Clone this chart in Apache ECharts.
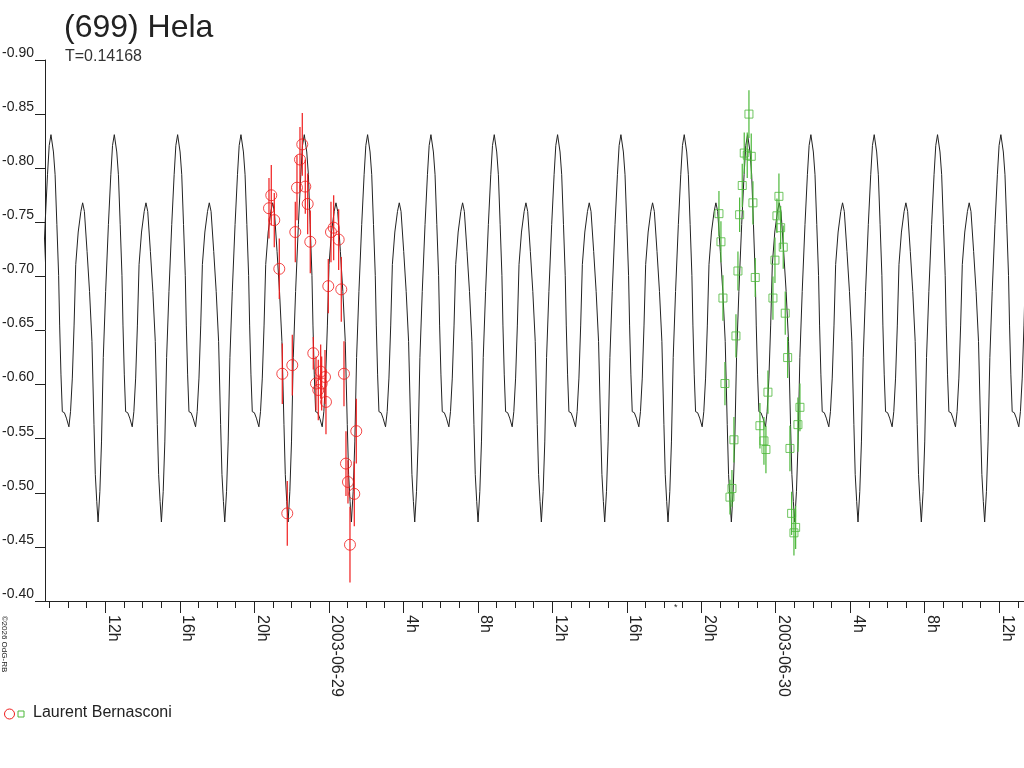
<!DOCTYPE html>
<html>
<head>
<meta charset="utf-8">
<title>(699) Hela</title>
<script src="https://cdn.jsdelivr.net/npm/echarts@6/dist/echarts.min.js"></script>
<style>
  html, body { margin: 0; padding: 0; background: #fff; }
  #main { width: 1024px; height: 768px; }
</style>
</head>
<body>
<div id="main"></div>
<script>
// time axis: hours since 2003-06-28 00:00 UT
const xMin = 8.762;
const xMax = 61.33;

// model lightcurve: one period, repeated with the period T
const periodDays = 0.14168;
const epoch = 9.083; // a main maximum
const profilePhase = [0, 0.039, 0.065, 0.093, 0.121, 0.137, 0.158, 0.179, 0.212, 0.244, 0.283, 0.309,
  0.337, 0.365, 0.391, 0.430, 0.472, 0.500, 0.528, 0.570, 0.609, 0.647, 0.679, 0.700, 0.723, 0.744,
  0.772, 0.798, 0.826, 0.863, 0.907, 0.945, 0.972];
const profileMag = [-0.831, -0.815, -0.794, -0.748, -0.701, -0.655, -0.609, -0.575, -0.574, -0.569, -0.561, -0.575,
  -0.606, -0.655, -0.711, -0.741, -0.760, -0.768, -0.760, -0.723, -0.686, -0.640, -0.563, -0.517, -0.492, -0.473,
  -0.501, -0.547, -0.625, -0.686, -0.748, -0.794, -0.821];

// Laurent Bernasconi, first night (circles)
const redTime = [20.789, 20.912, 21.073, 21.342, 21.503, 21.771, 22.040, 22.201, 22.292, 22.453, 22.577,
  22.738, 22.867, 23.006, 23.167, 23.312, 23.436, 23.565, 23.618, 23.796, 23.849, 23.973, 24.118, 24.263,
  24.531, 24.671, 24.816, 24.923, 25.030, 25.138, 25.369, 25.476];
const redMag = [-0.763, -0.775, -0.752, -0.707, -0.610, -0.481, -0.618, -0.741, -0.782, -0.808, -0.822,
  -0.783, -0.767, -0.732, -0.629, -0.601, -0.595, -0.612, -0.601, -0.607, -0.584, -0.691, -0.741, -0.745,
  -0.734, -0.688, -0.610, -0.527, -0.510, -0.452, -0.499, -0.557];
const redErr = [0.028, 0.028, 0.025, 0.028, 0.028, 0.030, 0.028, 0.028, 0.030, 0.030, 0.029,
  0.025, 0.028, 0.029, 0.015, 0.025, 0.028, 0.025, 0.025, 0.025, 0.030, 0.025, 0.028, 0.030,
  0.028, 0.030, 0.030, 0.030, 0.020, 0.035, 0.030, 0.030];

// Laurent Bernasconi, second night (squares)
const greenTime = [44.950, 45.057, 45.165, 45.272, 45.541, 45.648, 45.755, 45.863, 45.970, 46.061, 46.201,
  46.308, 46.469, 46.561, 46.684, 46.775, 46.899, 47.151, 47.366, 47.473, 47.581, 47.849, 47.957, 48.064,
  48.171, 48.263, 48.402, 48.510, 48.639, 48.762, 48.853, 48.977, 49.068, 49.191, 49.299];
const greenMag = [-0.758, -0.732, -0.680, -0.601, -0.496, -0.504, -0.549, -0.645, -0.705, -0.757, -0.784,
  -0.814, -0.812, -0.850, -0.811, -0.768, -0.699, -0.562, -0.548, -0.540, -0.593, -0.680, -0.715, -0.756,
  -0.774, -0.745, -0.727, -0.666, -0.625, -0.541, -0.481, -0.463, -0.468, -0.563, -0.579];
const greenErr = [0.021, 0.019, 0.021, 0.020, 0.016, 0.017, 0.021, 0.020, 0.018, 0.016, 0.020,
  0.019, 0.021, 0.022, 0.021, 0.020, 0.018, 0.021, 0.022, 0.022, 0.020, 0.020, 0.021, 0.016,
  0.021, 0.020, 0.020, 0.020, 0.019, 0.021, 0.020, 0.021, 0.020, 0.025, 0.022];

// x labels
const tickHours = [12, 16, 20, 24, 28, 32, 36, 40, 44, 48, 52, 56, 60];
const tickLabels = ['12h', '16h', '20h', '2003-06-29', '4h', '8h', '12h', '16h', '20h', '2003-06-30', '4h', '8h', '12h'];

const font = 'Liberation Sans, Arial, sans-serif';
const ink = '#222';
const red = '#f01c1c';
const green = '#4cb83a';

// build the model curve
const periodH = periodDays * 24;
const model = [];
for (let n = -1; n <= 16; n++) {
  for (let i = 0; i < profilePhase.length; i++) {
    const t = epoch + (n + profilePhase[i]) * periodH;
    if (t > xMin - 1 && t < xMax + 1) model.push([t, profileMag[i]]);
  }
}

const hourTicks = [];
for (let h = Math.ceil(xMin); h <= xMax; h++) hourTicks.push(h);

function errorBars(times, mags, errs, color) {
  return {
    type: 'custom',
    silent: true,
    z: 3,
    data: times.map((t, i) => [t, mags[i], errs[i]]),
    encode: { x: 0, y: 1 },
    renderItem: (params, api) => {
      const a = api.coord([api.value(0), api.value(1) - api.value(2)]);
      const b = api.coord([api.value(0), api.value(1) + api.value(2)]);
      return {
        type: 'line',
        shape: { x1: a[0], y1: a[1], x2: b[0], y2: b[1] },
        style: { stroke: color, lineWidth: 1.2 }
      };
    }
  };
}

const myChart = echarts.init(document.getElementById('main'));

const option = {
  backgroundColor: '#fff',
  animation: false,
  textStyle: { fontFamily: font },
  grid: { left: 45, right: 0, top: 60, bottom: 167, containLabel: false, outerBoundsMode: 'none' },
  xAxis: [{
    type: 'value',
    min: xMin,
    max: xMax,
    axisLine: { show: true, lineStyle: { color: ink, width: 1 } },
    axisTick: { show: true, customValues: tickHours, length: 12, lineStyle: { color: ink } },
    splitLine: { show: false },
    axisLabel: {
      customValues: tickHours,
      rotate: -90,
      margin: 14,
      verticalAlign: 'bottom',
      fontSize: 16,
      color: ink,
      fontFamily: font,
      formatter: (v) => tickLabels[tickHours.indexOf(Math.round(v))] || ''
    }
  }, {
    type: 'value',
    position: 'bottom',
    min: xMin,
    max: xMax,
    axisLine: { show: false },
    axisTick: { show: true, customValues: hourTicks, length: 7, lineStyle: { color: ink } },
    axisLabel: { show: false },
    splitLine: { show: false }
  }],
  yAxis: {
    type: 'value',
    inverse: true,
    min: -0.9,
    max: -0.4,
    interval: 0.05,
    axisLine: { show: true, lineStyle: { color: ink, width: 1 } },
    axisTick: { show: true, length: 10, lineStyle: { color: ink } },
    splitLine: { show: false },
    axisLabel: {
      margin: 11,
      verticalAlign: 'bottom',
      fontSize: 14,
      color: ink,
      fontFamily: font,
      formatter: (v) => v.toFixed(2)
    }
  },
  series: [{
    type: 'line',
    data: model,
    showSymbol: false,
    symbol: 'none',
    clip: true,
    lineStyle: { color: ink, width: 1 },
    z: 2
  },
  errorBars(redTime, redMag, redErr, red),
  errorBars(greenTime, greenMag, greenErr, green),
  {
    type: 'scatter',
    data: redTime.map((t, i) => [t, redMag[i]]),
    symbol: 'circle',
    symbolSize: 11,
    itemStyle: { color: 'rgba(0,0,0,0)', borderColor: red, borderWidth: 1 },
    z: 4
  }, {
    type: 'scatter',
    data: greenTime.map((t, i) => [t, greenMag[i]]),
    symbol: 'rect',
    symbolSize: 8,
    itemStyle: { color: 'rgba(0,0,0,0)', borderColor: green, borderWidth: 1 },
    z: 4
  }],
  graphic: [
    { type: 'text', left: 64, top: 12,
      style: { text: '(699) Hela', font: '32px ' + font, fill: ink } },
    { type: 'text', left: 65, top: 49,
      style: { text: 'T=0.14168', font: '16px ' + font, fill: '#333' } },
    { type: 'text', left: 674, top: 603,
      style: { text: '*', font: '9px ' + font, fill: ink } },
    { type: 'text', x: 4, y: 644, rotation: -Math.PI / 2,
      style: { text: '©2026 OdG-RB', font: '8px ' + font, fill: ink,
        align: 'center', verticalAlign: 'middle', textAlign: 'center', textVerticalAlign: 'middle' } },
    { type: 'circle', shape: { cx: 9.5, cy: 714, r: 5 },
      style: { fill: 'none', stroke: red, lineWidth: 1 } },
    { type: 'rect', shape: { x: 18, y: 711, width: 6, height: 6 },
      style: { fill: 'none', stroke: green, lineWidth: 1 } },
    { type: 'text', left: 33, top: 705,
      style: { text: 'Laurent Bernasconi', font: '16px ' + font, fill: ink } }
  ]
};

myChart.setOption(option);
</script>
</body>
</html>
